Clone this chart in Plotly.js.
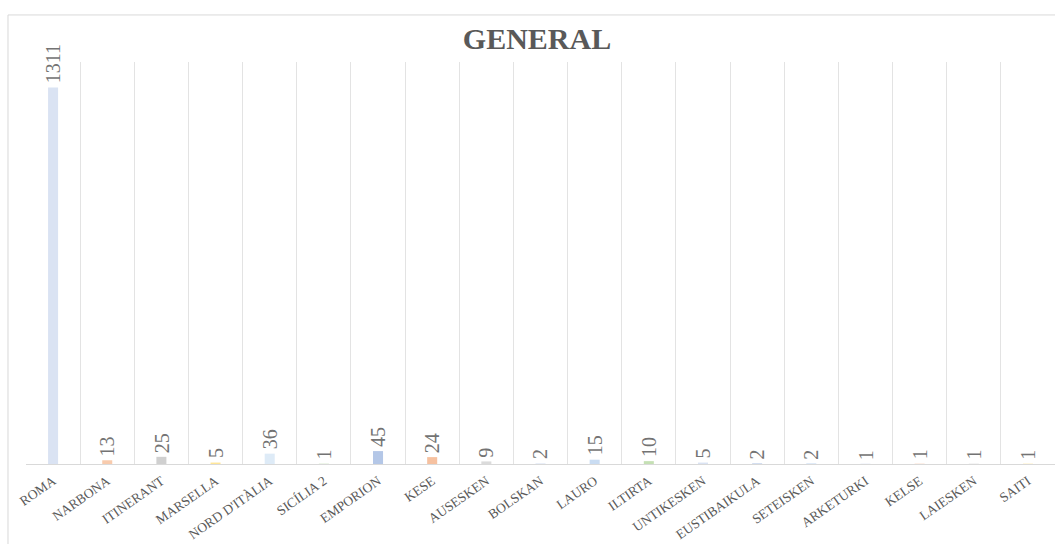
<!DOCTYPE html>
<html>
<head>
<meta charset="utf-8">
<script src="https://cdn.plot.ly/plotly-3.0.1.min.js"></script>
<style>html,body{margin:0;padding:0;background:#fff;}#chart{width:1055px;height:544px;}</style>
</head>
<body>
<div id="chart"></div>
<script>
const categories = ["ROMA","NARBONA","ITINERANT","MARSELLA","NORD D'ITÀLIA","SICÍLIA 2","EMPORION","KESE","AUSESKEN","BOLSKAN","LAURO","ILTIRTA","UNTIKESKEN","EUSTIBAIKULA","SETEISKEN","ARKETURKI","KELSE","LAIESKEN","SAITI"];
const values = [1311,13,25,5,36,1,45,24,9,2,15,10,5,2,2,1,1,1,1];
const barColors = ["#dae3f3","#f8cbad","#d0d0d0","#ffe699","#deebf7","#c5e0b4","#b4c7e7","#f6c1a0","#dbdbdb","#dae3f3","#c9dcf2","#c5e0b4","#dae3f3","#b4c7e7","#c9dcf2","#dae3f3","#f8cbad","#dbdbdb","#ffe699"];

const idx = categories.map((_, i) => i);
const boundaries = categories.map((_, i) => i - 0.5).concat([categories.length - 0.5]);

const trace = {
  type: 'bar',
  x: idx,
  y: values,
  width: 0.185,
  marker: {color: barColors},
  hoverinfo: 'x+y'
};

const gridTrace = {
  type: 'scatter', x: [0], y: [0], xaxis: 'x2', mode: 'markers',
  marker: {opacity: 0}, hoverinfo: 'skip', showlegend: false
};

const labelAnnotations = values.map((v, i) => ({
  x: idx[i], y: v, xref: 'x', yref: 'y',
  text: String(v), showarrow: false, textangle: -90,
  xanchor: 'center', yanchor: 'bottom', yshift: 2,
  font: {family: 'Liberation Serif, serif', size: 20, color: '#737373'}
}));

const layout = {
  width: 1055, height: 544,
  margin: {l: 26, r: 0, t: 62, b: 80},
  paper_bgcolor: '#ffffff', plot_bgcolor: '#ffffff',
  showlegend: false,
  title: {
    text: '<b>GENERAL</b>',
    font: {family: 'Liberation Serif, serif', size: 30, color: '#595959'},
    xref: 'container', x: 0.509, xanchor: 'center',
    yref: 'container', y: 0.93, yanchor: 'middle'
  },
  xaxis: {
    range: [-0.5, categories.length - 0.5],
    tickmode: 'array', tickvals: idx, ticktext: categories,
    tickangle: -35,
    ticklabelstandoff: 3,
    tickfont: {family: 'Liberation Serif, serif', size: 13.5, color: '#595959'},
    showgrid: false, zeroline: false,
    showline: true, linecolor: '#d9d9d9', linewidth: 1,
    ticks: '', fixedrange: true
  },
  xaxis2: {
    overlaying: 'x', matches: 'x', range: [-0.5, categories.length - 0.5],
    tickmode: 'array', tickvals: boundaries, showticklabels: false,
    showgrid: true, gridcolor: '#e3e3e3', gridwidth: 1, zeroline: false, ticks: ''
  },
  yaxis: {
    range: [0, 1400], visible: false, showgrid: false, zeroline: false, fixedrange: true
  },
  annotations: labelAnnotations,
  shapes: [{
    type: 'rect', xref: 'paper', yref: 'paper',
    x0: -0.0175, x1: 1.05, y0: -0.4, y1: 1.117,
    line: {color: '#d9d9d9', width: 1}, fillcolor: 'rgba(0,0,0,0)', layer: 'below'
  }]
};

Plotly.newPlot('chart', [gridTrace, trace], layout, {displayModeBar: false, staticPlot: true});
</script>
</body>
</html>
